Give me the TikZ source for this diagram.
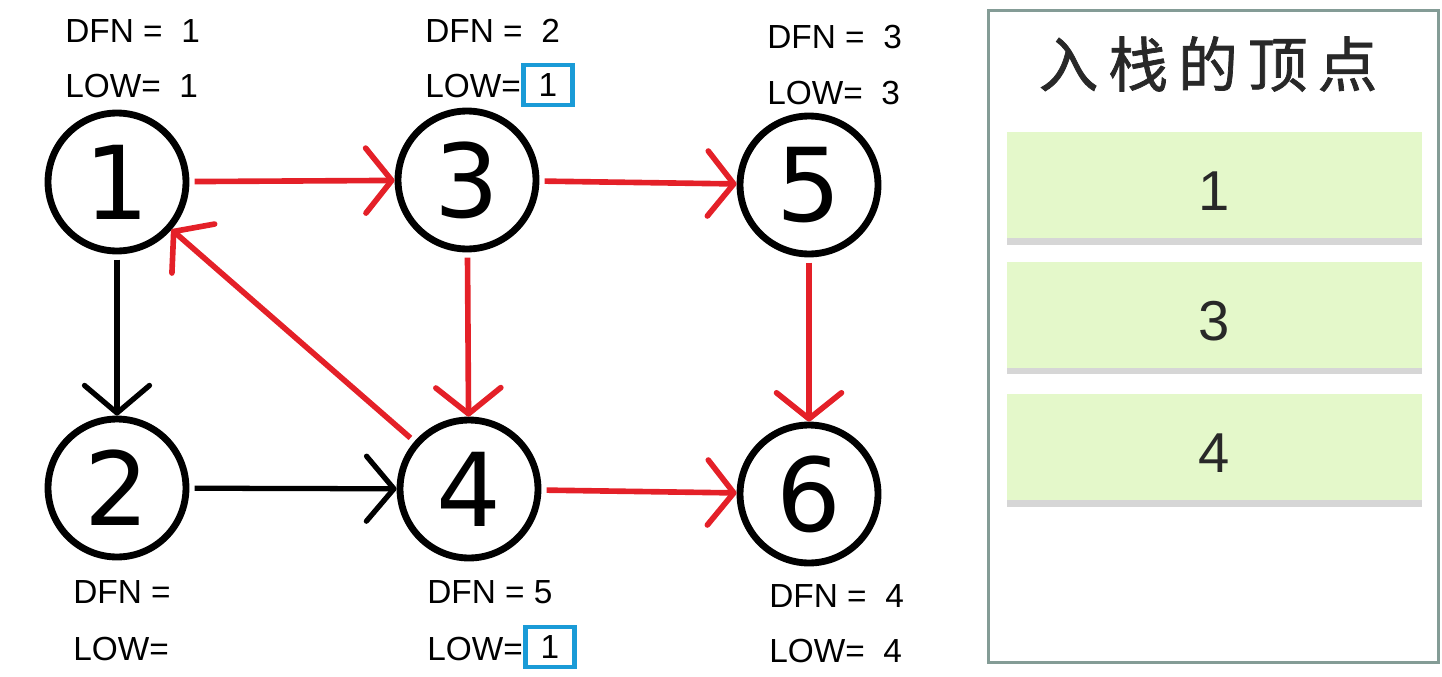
\documentclass[tikz,border=0pt]{standalone}
\usepackage{fontspec}
\setmainfont{Liberation Sans}
\newfontfamily\cjk[FakeBold=1.2]{Noto Sans CJK SC}
\newfontfamily\digitfont{DejaVu Sans}
\usetikzlibrary{arrows.meta}
\definecolor{edgered}{RGB}{228,32,40}
\definecolor{boxblue}{RGB}{26,155,215}
\definecolor{panelborder}{RGB}{132,156,150}
\definecolor{stackgreen}{RGB}{228,248,202}
\definecolor{stackbar}{RGB}{214,214,214}
\definecolor{darktext}{RGB}{40,40,40}
\tikzset{
  vertex/.style={circle, draw, line width=3.9pt, minimum size=2.76cm, inner sep=0pt,
    font=\digitfont\fontsize{58}{60}\selectfont},
  redarrow/.style={draw=edgered, line width=3.2pt,
    -{Straight Barb[length=0.52cm,width=1.3cm,round]}, shorten <=3pt},
  blackarrow/.style={draw=black, line width=3.0pt,
    -{Straight Barb[length=0.55cm,width=1.3cm,round]}, shorten <=3pt},
  info/.style={anchor=base west, inner sep=0pt, font=\fontsize{19}{22}\selectfont},
  lowbox/.style={draw=boxblue, line width=2.4pt, minimum width=0.98cm, minimum height=0.8cm,
    inner sep=0pt, font=\fontsize{19}{22}\selectfont},
  stackitem/.style={fill=stackgreen, minimum width=8.3cm, minimum height=2.14cm, inner sep=0pt,
    text height=28.5pt, text depth=0pt,
    font=\fontsize{32}{36}\selectfont, text=darktext},
  stackbase/.style={fill=stackbar, minimum width=8.3cm, minimum height=0.13cm, inner sep=0pt}
}
\begin{document}
\begin{tikzpicture}[x=0.02cm, y=-0.02cm]
\useasboundingbox (0,0) rectangle (1442,676);
% vertices
\node[vertex] (n1) at (117,182) {1};
\node[vertex] (n3) at (467,180) {3};
\node[vertex] (n5) at (809,185) {5};
\node[vertex] (n2) at (117,488) {2};
\node[vertex] (n4) at (469,489) {4};
\node[vertex] (n6) at (809,494) {6};
% edges
\draw[redarrow] (n1) -- (n3);
\draw[redarrow] (n3) -- (n5);
\draw[redarrow] (n3) -- (n4);
\draw[redarrow] (n5) -- (n6);
\draw[redarrow] (n4) -- (n6);
\draw[redarrow] (n4) -- (n1);
\draw[blackarrow] (n1) -- (n2);
\draw[blackarrow] (n2) -- (n4);
% labels
\node[info] (d1) at (65,42) {DFN = \ 1};
\node[info] (l1) at (65,97) {LOW= \ 1};
\node[info] (d3) at (425,42) {DFN = \ 2};
\node[info] (l3) at (425,97) {LOW=};
\node[lowbox] (b3) at (548,85) {1};
\node[info] (d5) at (767,48) {DFN = \ 3};
\node[info] (l5) at (767,104) {LOW= \ 3};
\node[info] (d2) at (73,603) {DFN =};
\node[info] (l2) at (73,660) {LOW=};
\node[info] (d4) at (427,603) {DFN = 5};
\node[info] (l4) at (427,660) {LOW=};
\node[lowbox] (b4) at (550,647) {1};
\node[info] (d6) at (769,607) {DFN = \ 4};
\node[info] (l6) at (769,662) {LOW= \ 4};
% stack panel
\node[draw=panelborder, line width=1.6pt, minimum width=9.0cm, minimum height=13.04cm, inner sep=0pt]
  (panel) at (1213.5,336.5) {};
\node[text=darktext, font=\cjk\fontsize{34}{40}\selectfont] (title) at (1208,64)
  {入\kern5.7pt 栈\kern5.7pt 的\kern5.7pt 顶\kern5.7pt 点};
\node[stackitem] (s1) at (1214.5,185) {1};
\node[stackbase] (s1b) at (1214.5,241.5) {};
\node[stackitem] (s3) at (1214.5,315) {3};
\node[stackbase] (s3b) at (1214.5,371) {};
\node[stackitem] (s4) at (1214.5,447) {4};
\node[stackbase] (s4b) at (1214.5,503.5) {};
\end{tikzpicture}
\end{document}
